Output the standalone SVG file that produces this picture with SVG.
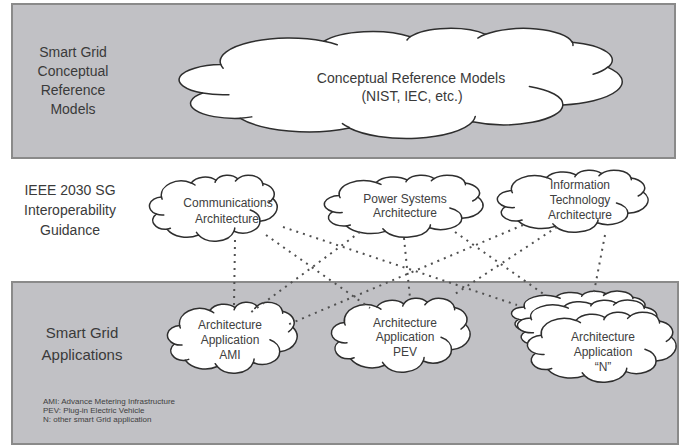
<svg xmlns="http://www.w3.org/2000/svg" xmlns:xlink="http://www.w3.org/1999/xlink" width="682" height="445" viewBox="0 0 682 445">
<style>
.panel{fill:#c1c1c5;stroke:#8a8a8a;stroke-width:2}
.lbl{font-family:"Liberation Sans",Arial,sans-serif;fill:#3a3a3a;text-anchor:middle}
.ct{font-family:"Liberation Sans",Arial,sans-serif;fill:#404040;text-anchor:middle;font-size:12px}
.leg{font-family:"Liberation Sans",Arial,sans-serif;fill:#404040;font-size:8px}
.cf{fill:#fff;stroke:#2e2e2e;stroke-width:1.5;vector-effect:non-scaling-stroke;stroke-linejoin:round}
.cc{fill:none;stroke:#2e2e2e;stroke-width:1.5;vector-effect:non-scaling-stroke;stroke-linecap:round}
.dot{stroke:#505050;stroke-width:2;stroke-dasharray:2 5;fill:none}
</style>
<defs>
<symbol id="cloud" viewBox="0 0 432 432" preserveAspectRatio="none" overflow="visible">
<path class="cf" d="M39,143.7 A67.53,91.9 0 0 1 140.06,52.03 A53.33,72.67 0 0 1 224.58,34.32 A43.65,59.45 0 0 1 298.35,24.8 A48.57,65.95 0 0 1 383.21,55.75 A53.33,72.73 0 0 1 418.21,154.59 A67.75,92.2 0 0 1 374.07,302.02 A57.85,78.67 0 0 1 285.59,368.12 A67.52,92.15 0 0 1 164.84,392.65 A77.2,105.43 0 0 1 58.06,354.7 A43.6,59.18 0 0 1 21.13,255.49 A43.45,59.45 0 0 1 39,143.7 Z"/>
<path class="cc" d="M46.93,261.77 A43.45,59.45 0 0 1 21.13,255.49 M69.28,348.99 A43.6,59.18 0 0 1 58.06,354.7 M164.78,390.9 A67.52,92.15 0 0 1 158.15,375.23 M288.27,347.51 A67.52,92.15 0 0 1 285.59,368.12 M341.29,229.54 A57.85,78.67 0 0 1 374.07,302.02 M417.98,153.54 A53.33,72.73 0 0 1 403.73,181.36 M383.24,54.26 A48.57,65.95 0 0 1 383.97,68.38 M290.78,39.52 A48.57,65.95 0 0 1 298.35,24.8 M221.41,47.2 A43.65,59.45 0 0 1 224.58,34.32 M140,51.92 A67.53,91.9 0 0 1 153.05,65.51 M41.27,157.89 A67.53,91.9 0 0 1 39,143.7"/>
</symbol>
</defs>

<g id="panel-conceptual">
<rect class="panel" x="12" y="4" width="663" height="154"/>
<text class="lbl" font-size="14" x="73"><tspan x="73" y="57">Smart Grid</tspan><tspan x="73" y="76">Conceptual</tspan><tspan x="73" y="95">Reference</tspan><tspan x="73" y="114">Models</tspan></text>
</g>
<g id="panel-applications">
<rect class="panel" x="12" y="282" width="666" height="162"/>
<text class="lbl" font-size="15" x="82"><tspan x="82" y="338">Smart Grid</tspan><tspan x="82" y="360">Applications</tspan></text>
<text class="leg"><tspan x="43" y="403.5">AMI: Advance Metering Infrastructure</tspan><tspan x="43" y="413">PEV: Plug-in Electric Vehicle</tspan><tspan x="43" y="422">N: other smart Grid application</tspan></text>
</g>
<g id="label-ieee">
<text class="lbl" font-size="14" x="70"><tspan x="70" y="195">IEEE 2030 SG</tspan><tspan x="70" y="215">Interoperability</tspan><tspan x="70" y="235">Guidance</tspan></text>
</g>

<g id="cloud-crm">
<use href="#cloud" x="181" y="28" width="441" height="110"/>
<text class="lbl" font-size="14"><tspan x="411" y="83">Conceptual Reference Models</tspan><tspan x="412" y="101">(NIST, IEC, etc.)</tspan></text>
</g>
<g id="cloud-comm">
<use href="#cloud" x="150" y="175" width="127" height="66"/>
<text class="ct"><tspan x="228" y="207">Communications</tspan><tspan x="227" y="223">Architecture</tspan></text>
</g>
<g id="cloud-power">
<use href="#cloud" x="325" y="175" width="158" height="62"/>
<text class="ct"><tspan x="405" y="203">Power Systems</tspan><tspan x="405" y="217">Architecture</tspan></text>
</g>
<g id="cloud-it">
<use href="#cloud" x="498" y="170" width="150" height="62"/>
<text class="ct"><tspan x="580" y="189">Information</tspan><tspan x="580" y="204">Technology</tspan><tspan x="580" y="219">Architecture</tspan></text>
</g>
<g id="cloud-ami">
<use href="#cloud" x="168" y="302" width="129" height="71"/>
<text class="ct"><tspan x="230" y="329">Architecture</tspan><tspan x="230" y="344">Application</tspan><tspan x="230" y="359">AMI</tspan></text>
</g>
<g id="cloud-pev">
<use href="#cloud" x="332" y="298" width="138" height="74"/>
<text class="ct"><tspan x="405" y="327">Architecture</tspan><tspan x="405" y="341">Application</tspan><tspan x="405" y="356">PEV</tspan></text>
</g>
<g id="cloud-n">
<use href="#cloud" x="512" y="291" width="136" height="48"/>
<use href="#cloud" x="518" y="300" width="142" height="54"/>
<use href="#cloud" x="528" y="312" width="148" height="70"/>
<text class="ct"><tspan x="603" y="341">Architecture</tspan><tspan x="603" y="356">Application</tspan><tspan x="603" y="371">“N”</tspan></text>
</g>

<g id="connectors">
<line class="dot" x1="235" y1="240" x2="234" y2="305"/>
<line class="dot" x1="266" y1="235" x2="370" y2="308"/>
<line class="dot" x1="283" y1="227" x2="517" y2="305"/>
<line class="dot" x1="360" y1="232" x2="250" y2="313"/>
<line class="dot" x1="404" y1="238" x2="410" y2="298"/>
<line class="dot" x1="455" y1="232" x2="545" y2="295"/>
<line class="dot" x1="523" y1="225" x2="287" y2="325"/>
<line class="dot" x1="557" y1="227" x2="452" y2="296"/>
<line class="dot" x1="605" y1="235" x2="594" y2="292"/>
</g>
</svg>
